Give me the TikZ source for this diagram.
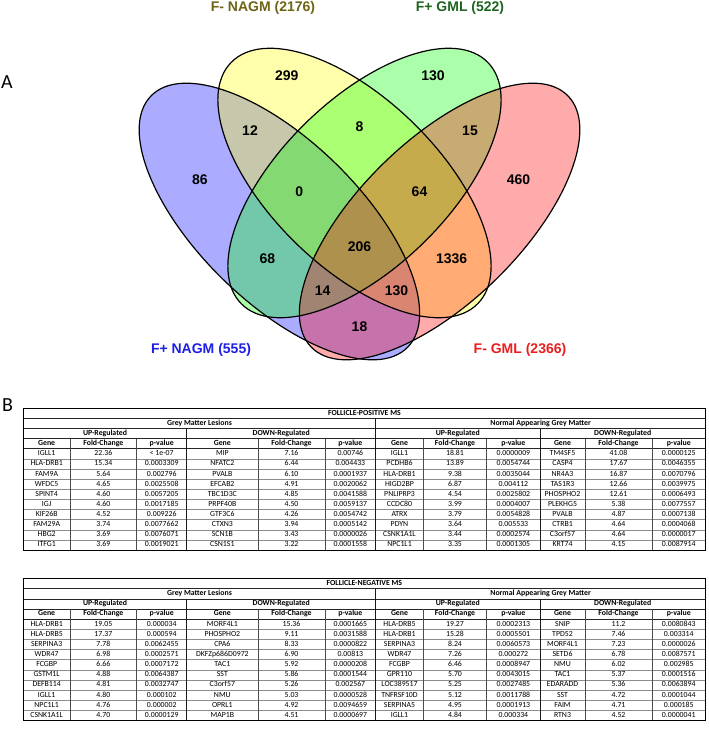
\documentclass[tikz,border=0pt]{standalone}
\usepackage{fontspec}
\setmainfont{Carlito}
\newfontfamily\vennfont{Liberation Sans}
\definecolor{cB}{RGB}{0,0,255}
\definecolor{cY}{RGB}{255,255,0}
\definecolor{cG}{RGB}{0,255,0}
\definecolor{cR}{RGB}{255,0,0}
\definecolor{labB}{RGB}{30,30,230}
\definecolor{labY}{RGB}{110,100,20}
\definecolor{labG}{RGB}{30,100,30}
\definecolor{labR}{RGB}{235,30,30}
\def\rowh{10.13}
\newcommand\grp[7]{%
  \foreach \g/\f/\p [count=\i from 4] in {#7} {
    \node[cell] (#1-\i-a) at ({(#3+#4)/2},{#2+(\i+0.5)*\rowh}) {\g};
    \node[cell] (#1-\i-b) at ({(#4+#5)/2},{#2+(\i+0.5)*\rowh}) {\f};
    \node[cell] (#1-\i-c) at ({(#5+#6)/2},{#2+(\i+0.5)*\rowh}) {\p};
  }
  \node[hcell] (#1-h-a) at ({(#3+#4)/2},{#2+3.5*\rowh}) {Gene};
  \node[hcell] (#1-h-b) at ({(#4+#5)/2},{#2+3.5*\rowh}) {Fold-Change};
  \node[hcell] (#1-h-c) at ({(#5+#6)/2},{#2+3.5*\rowh}) {p-value};
}
\newcommand\tabframe[3]{%
  \foreach \r in {1,2,3,4} \draw[hline] (23.3,{#2+\r*\rowh}) -- (705.5,{#2+\r*\rowh});
  \foreach \r in {5,...,13} \draw[dline] (23.3,{#2+\r*\rowh}) -- (705.5,{#2+\r*\rowh});
  \foreach \x in {70,136.7,258,325,423.3,486.7,585,652} \draw[vline] (\x,{#2+3*\rowh}) -- (\x,{#2+14*\rowh});
  \foreach \x in {186.7,540} \draw[mline] (\x,{#2+2*\rowh}) -- (\x,{#2+14*\rowh});
  \draw[mline] (375.7,{#2+\rowh}) -- (375.7,{#2+14*\rowh});
  \draw[bline] (23.3,#2) rectangle (705.5,{#2+14*\rowh});
  \node[hcell] (#1-title) at (364.4,{#2+0.5*\rowh}) {#3};
  \node[hcell] (#1-gml) at (199.5,{#2+1.5*\rowh}) {Grey Matter Lesions};
  \node[hcell] (#1-nagm) at (540.6,{#2+1.5*\rowh}) {Normal Appearing Grey Matter};
  \node[hcell] (#1-up1) at (105,{#2+2.5*\rowh}) {UP-Regulated};
  \node[hcell] (#1-dn1) at (281.2,{#2+2.5*\rowh}) {DOWN-Regulated};
  \node[hcell] (#1-up2) at (457.85,{#2+2.5*\rowh}) {UP-Regulated};
  \node[hcell] (#1-dn2) at (622.7,{#2+2.5*\rowh}) {DOWN-Regulated};
}
\begin{document}
\begin{tikzpicture}[x=1pt,y=-1pt,
  cnt/.style={font=\vennfont\bfseries\fontsize{14}{14}\selectfont, inner sep=0pt, text height=10pt, text depth=0pt},
  setlab/.style={font=\vennfont\bfseries\fontsize{14}{14}\selectfont, inner sep=0pt, text height=10pt, text depth=2.5pt},
  panel/.style={font=\fontsize{20}{20}\selectfont, inner sep=0pt},
  cell/.style={font=\fontsize{7.8}{8}\selectfont, inner sep=0pt, text height=5.2pt, text depth=1.4pt},
  hcell/.style={font=\bfseries\fontsize{7.8}{8}\selectfont, inner sep=0pt, text height=5.2pt, text depth=1.4pt},
  hline/.style={draw=black!85, line width=0.7pt},
  dline/.style={draw=black!45, line width=0.5pt},
  vline/.style={draw=black!70, line width=0.6pt},
  mline/.style={draw=black!90, line width=0.9pt},
  bline/.style={draw=black, line width=1pt},
  vfill/.style={fill opacity=0.33},
  vedge/.style={draw=black, line width=1.2pt},
  eB/.style={shift={(279.4,221.5)}, rotate=-44.4},
  eY/.style={shift={(354.5,183)}, rotate=-44.35},
  eG/.style={shift={(364.5,183)}, rotate=44.35},
  eR/.style={shift={(439.6,221.5)}, rotate=44.4},
  ]
\useasboundingbox (0,0) rectangle (709,739);
% ---------- Venn diagram ----------
\fill[cB, vfill, eB] (0,0) ellipse [x radius=179.6pt, y radius=80.8pt];
\fill[cY, vfill, eY] (0,0) ellipse [x radius=172.5pt, y radius=84pt];
\fill[cG, vfill, eG] (0,0) ellipse [x radius=172.5pt, y radius=84pt];
\fill[cR, vfill, eR] (0,0) ellipse [x radius=179.6pt, y radius=80.8pt];
\draw[vedge, eB] (0,0) ellipse [x radius=179.6pt, y radius=80.8pt];
\draw[vedge, eY] (0,0) ellipse [x radius=172.5pt, y radius=84pt];
\draw[vedge, eG] (0,0) ellipse [x radius=172.5pt, y radius=84pt];
\draw[vedge, eR] (0,0) ellipse [x radius=179.6pt, y radius=80.8pt];

\node[panel] (pA) at (7,82) {A};
\node[panel] (pB) at (7.5,405) {B};

\node[setlab, text=labY] (sY) at (263,7.5) {F- NAGM (2176)};
\node[setlab, text=labG] (sG) at (460,7.5) {F+ GML (522)};
\node[setlab, text=labB] (sB) at (201,350) {F+ NAGM (555)};
\node[setlab, text=labR] (sR) at (520,350) {F- GML (2366)};

\node[cnt] (n299) at (286.7,75) {299};
\node[cnt] (n130a) at (433,75) {130};
\node[cnt] (n12) at (250,130) {12};
\node[cnt] (n8) at (359.5,126.5) {8};
\node[cnt] (n15) at (470,130) {15};
\node[cnt] (n86) at (200,179.3) {86};
\node[cnt] (n0) at (299.3,191.7) {0};
\node[cnt] (n64) at (419.5,191.7) {64};
\node[cnt] (n460) at (518.5,179.3) {460};
\node[cnt] (n68) at (267.3,258.3) {68};
\node[cnt] (n206) at (359.5,246.7) {206};
\node[cnt] (n1336) at (451.7,258.3) {1336};
\node[cnt] (n14) at (322.7,290.7) {14};
\node[cnt] (n130b) at (396.5,290.7) {130};
\node[cnt] (n18) at (359.5,326) {18};

% ---------- Table 1 ----------
\tabframe{ta}{408.3}{FOLLICLE-POSITIVE MS}
\grp{ta1}{408.3}{23.3}{70}{136.7}{186.7}{IGLL1/22.36/{< 1e-07}, HLA-DRB1/15.34/0.0003309, FAM9A/5.64/0.002796, WFDC5/4.65/0.0025508, SPINT4/4.60/0.0057205, IGJ/4.60/0.0017185, KIF26B/4.52/0.009226, FAM29A/3.74/0.0077662, HBG2/3.69/0.0076071, ITFG1/3.69/0.0019021}
\grp{ta2}{408.3}{186.7}{258}{325}{375.7}{MIP/7.16/0.00746, NFATC2/6.44/0.004433, PVALB/6.10/0.0001937, EFCAB2/4.91/0.0020062, TBC1D3C/4.85/0.0041588, PRPF40B/4.50/0.0059137, GTF3C6/4.26/0.0054742, CTXN3/3.94/0.0005142, SCN1B/3.43/0.0000026, CSN1S1/3.22/0.0001558}
\grp{ta3}{408.3}{375.7}{423.3}{486.7}{540}{IGLL1/18.81/0.0000009, PCDHB6/13.89/0.0054744, HLA-DRB1/9.38/0.0035044, HIGD2BP/6.87/0.004112, PNLIPRP3/4.54/0.0025802, CCDC80/3.99/0.0004007, ATRX/3.79/0.0054828, PDYN/3.64/0.005533, CSNK1A1L/3.44/0.0002574, NPC1L1/3.35/0.0001305}
\grp{ta4}{408.3}{540}{585}{652}{705.5}{TM4SF5/41.08/0.0000125, CASP4/17.67/0.0046355, NR4A3/16.87/0.0070796, TAS1R3/12.66/0.0039975, PHOSPHO2/12.61/0.0006493, PLEKHG5/5.38/0.0077557, PVALB/4.87/0.0007138, CTRB1/4.64/0.0004068, C3orf57/4.64/0.0000017, KRT74/4.15/0.0087914}

% ---------- Table 2 ----------
\tabframe{tb}{578.6}{FOLLICLE-NEGATIVE MS}
\grp{tb1}{578.6}{23.3}{70}{136.7}{186.7}{HLA-DRB1/19.05/0.000034, HLA-DRB5/17.37/0.000594, SERPINA3/7.78/0.0062455, WDR47/6.98/0.0002571, FCGBP/6.66/0.0007172, GSTM1L/4.88/0.0064387, DEFB114/4.81/0.0032747, IGLL1/4.80/0.000102, NPC1L1/4.76/0.000002, CSNK1A1L/4.70/0.0000129}
\grp{tb2}{578.6}{186.7}{258}{325}{375.7}{MORF4L1/15.36/0.0001665, PHOSPHO2/9.11/0.0031588, CPA6/8.33/0.0000822, DKFZp686D0972/6.90/0.00813, TAC1/5.92/0.0000208, SST/5.86/0.0001544, C3orf57/5.26/0.002567, NMU/5.03/0.0000528, OPRL1/4.92/0.0094659, MAP1B/4.51/0.0000697}
\grp{tb3}{578.6}{375.7}{423.3}{486.7}{540}{HLA-DRB5/19.27/0.0002313, HLA-DRB1/15.28/0.0005501, SERPINA3/8.24/0.0060573, WDR47/7.26/0.000272, FCGBP/6.46/0.0008947, GPR110/5.70/0.0043015, LOC389517/5.25/0.0027485, TNFRSF10D/5.12/0.0011788, SERPINA5/4.95/0.0001913, IGLL1/4.84/0.000334}
\grp{tb4}{578.6}{540}{585}{652}{705.5}{SNIP/11.2/0.0080843, TPD52/7.46/0.003314, MORF4L1/7.23/0.0000026, SETD6/6.78/0.0087571, NMU/6.02/0.002985, TAC1/5.37/0.0001516, EDARADD/5.36/0.0063894, SST/4.72/0.0001044, FAIM/4.71/0.000185, RTN3/4.52/0.0000041}
\end{tikzpicture}
\end{document}
